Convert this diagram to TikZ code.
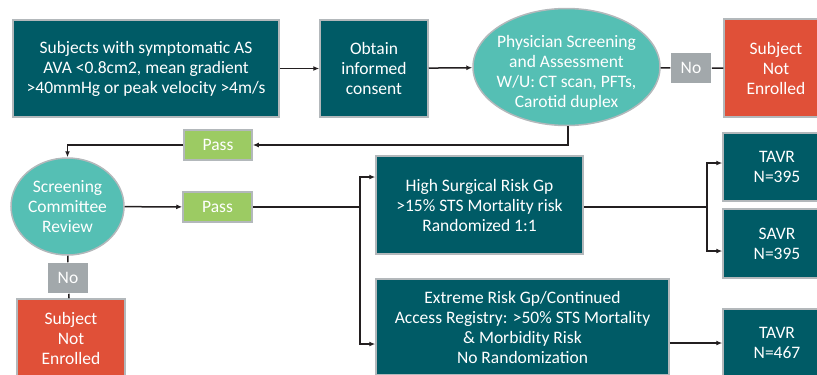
\documentclass[tikz,border=0pt]{standalone}
\usepackage{fontspec}
\setmainfont{Carlito}
\usetikzlibrary{arrows.meta,shapes.geometric}

\definecolor{darkteal}{HTML}{005B66}
\definecolor{lightteal}{HTML}{55BFB4}
\definecolor{passgreen}{HTML}{9CCB63}
\definecolor{nogrey}{HTML}{A2A8AB}
\definecolor{stopred}{HTML}{E05038}
\definecolor{edgegrey}{HTML}{B3B8BB}
\definecolor{linedark}{HTML}{231F20}

\begin{document}
\begin{tikzpicture}[x=1pt,y=1pt,
    box/.style={rectangle,draw=edgegrey,line width=1.5pt,inner sep=0pt,align=center,text=white,font=\fontsize{17.5}{20}\selectfont},
    stepbox/.style={box,fill=darkteal},
    oval/.style={ellipse,draw=edgegrey,line width=1.5pt,inner sep=0pt,align=center,text=white,fill=lightteal,font=\fontsize{17.5}{20}\selectfont},
    stopbox/.style={box,fill=stopred},
    passbox/.style={box,fill=passgreen,minimum height=30pt},
    nobox/.style={box,fill=nogrey,draw=none,minimum width=40pt,minimum height=30pt},
    link/.style={draw=linedark,line width=1.5pt},
    arr/.style={link,-{Latex[length=6pt,width=5pt]}}]

    \clip (0,0) rectangle (817,-375);

    % nodes (top row)
    \node[stepbox,minimum width=266pt,minimum height=97pt] (subj) at (146,-68.5) {Subjects with symptomatic AS\\AVA <0.8cm2, mean gradient\\>40mmHg or peak velocity >4m/s};
    \node[stepbox,minimum width=108pt,minimum height=97pt] (consent) at (374,-68.5) {Obtain\\informed\\consent};
    \node[oval,minimum width=187pt,minimum height=117pt] (phys) at (566.5,-67) {};
    \node[text=white,align=center,font=\fontsize{17.5}{20}\selectfont] (physlabel) at ([yshift=-6pt]phys.center) {Physician Screening\\and Assessment\\W/U: CT scan, PFTs,\\Carotid duplex};
    \node[nobox] (notop) at (691,-68) {No};
    \node[stopbox,minimum width=104pt,minimum height=98pt] (outtop) at (776,-68) {Subject\\Not\\Enrolled};

    % nodes (committee)
    \node[passbox,minimum width=68pt] (passtop) at (218,-145) {Pass};
    \node[oval,minimum width=113pt,minimum height=97pt] (committee) at (67.5,-206.5) {Screening\\Committee\\Review};
    \node[passbox,minimum width=69pt] (passlow) at (217.5,-207) {Pass};
    \node[nobox] (nolow) at (68,-278) {No};
    \node[stopbox,minimum width=108pt,minimum height=78pt] (outlow) at (71,-338) {Subject\\Not\\Enrolled};

    % nodes (risk groups)
    \node[stepbox,minimum width=207pt,minimum height=98pt] (highrisk) at (479.5,-205) {High Surgical Risk Gp\\>15\% STS Mortality risk\\Randomized 1:1};
    \node[stepbox,minimum width=293pt,minimum height=96pt] (extreme) at (522.5,-327) {Extreme Risk Gp/Continued\\Access Registry: >50\% STS Mortality\\\& Morbidity Risk\\No Randomization};
    \node[stepbox,minimum width=108pt,minimum height=68pt] (tavrhigh) at (777,-167) {TAVR\\N=395};
    \node[stepbox,minimum width=108pt,minimum height=69pt] (savrhigh) at (777,-243.5) {SAVR\\N=395};
    \node[stepbox,minimum width=108pt,minimum height=68pt] (tavrext) at (777,-343) {TAVR\\N=467};

    % split points
    \coordinate (riskfork) at (360,-207);
    \coordinate (armfork) at (707,-207);

    % paths
    \draw[arr] (subj) -- (consent); % subj -> consent
    \draw[arr] (consent) -- (phys); % consent -> screening
    \draw[link] (phys) -- (notop) -- (outtop); % screening -> not enrolled
    \draw[arr] ([xshift=1.5pt]phys.south) |- (passtop.east); % screening -> pass
    \draw[arr] (passtop.west) -| (committee.north); % pass -> committee
    \draw[arr] (committee) -- (passlow); % committee -> pass
    \draw[link] (committee) -- (nolow) -- (outlow); % committee -> not enrolled
    \draw[link] (passlow) -- (riskfork);
    \draw[arr] (riskfork) |- ([yshift=28pt]highrisk.west); % -> high risk
    \draw[arr] (riskfork) |- ([yshift=-17pt]extreme.west); % -> extreme risk
    \draw[link] (highrisk.east |- armfork) -- (armfork);
    \draw[arr] (armfork) |- ([yshift=4pt]tavrhigh.west); % -> TAVR
    \draw[arr] (armfork) |- ([yshift=-7.5pt]savrhigh.west); % -> SAVR
    \draw[arr] (extreme.east |- tavrext.west) -- (tavrext.west); % -> TAVR

\end{tikzpicture}
\end{document}
